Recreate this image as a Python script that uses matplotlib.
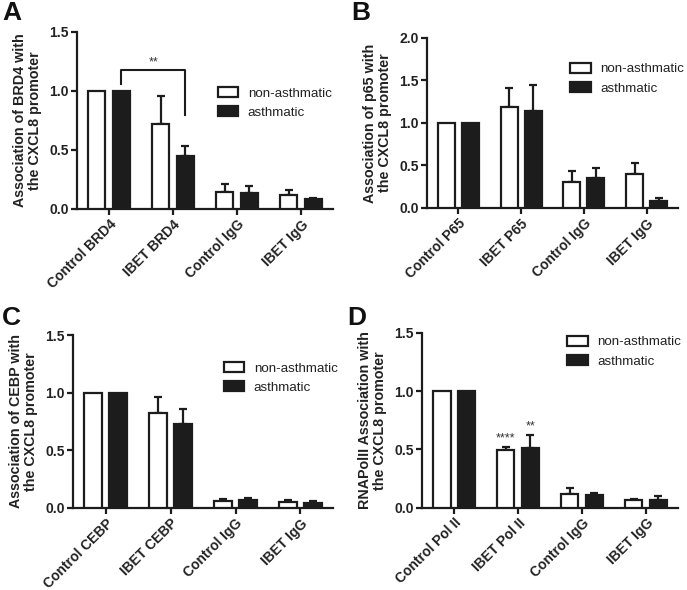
import matplotlib
matplotlib.use("Agg")
import matplotlib.pyplot as plt
import numpy as np
from matplotlib.patches import Patch

plt.rcParams['font.family'] = ['Liberation Sans', 'DejaVu Sans']

series_names = ["non-asthmatic", "asthmatic"]

# Panel A
cats_a = ["Control BRD4", "IBET BRD4", "Control IgG", "IBET IgG"]
non_a = [1.0, 0.72, 0.14, 0.115]
non_a_err = [0.0, 0.24, 0.07, 0.05]
ast_a = [1.0, 0.45, 0.135, 0.082]
ast_a_err = [0.0, 0.08, 0.06, 0.015]
ylab_a = "Association of BRD4 with\nthe CXCL8 promoter"

# Panel B
cats_b = ["Control P65", "IBET P65", "Control IgG", "IBET IgG"]
non_b = [1.0, 1.19, 0.30, 0.395]
non_b_err = [0.0, 0.22, 0.14, 0.135]
ast_b = [1.0, 1.145, 0.35, 0.078]
ast_b_err = [0.0, 0.30, 0.12, 0.042]
ylab_b = "Association of p65 with\nthe CXCL8 promoter"

# Panel C
cats_c = ["Control CEBP", "IBET CEBP", "Control IgG", "IBET IgG"]
non_c = [1.0, 0.82, 0.063, 0.055]
non_c_err = [0.0, 0.14, 0.012, 0.017]
ast_c = [1.0, 0.724, 0.066, 0.043]
ast_c_err = [0.0, 0.138, 0.018, 0.018]
ylab_c = "Association of CEBP with\nthe CXCL8 promoter"

# Panel D
cats_d = ["Control Pol II", "IBET Pol II", "Control IgG", "IBET IgG"]
non_d = [1.0, 0.497, 0.115, 0.062]
non_d_err = [0.0, 0.026, 0.055, 0.01]
ast_d = [1.0, 0.512, 0.11, 0.066]
ast_d_err = [0.0, 0.11, 0.016, 0.03]
ylab_d = "RNAPolII Association with\nthe CXCL8 promoter"

fig = plt.figure(figsize=(6.87, 5.90), dpi=100)

INK = "#1c1c1c"
W = 0.27
OFF = 0.19
TICK_FS = 10
LAB_FS = 10.3
LEG_FS = 9.6

def panel(rect, cats, non, non_err, ast, ast_err, ylab, ymax, letter, letter_xy, leg_xy):
    ax = fig.add_axes(rect)
    x = np.arange(len(cats))
    ax.bar(x - OFF, non, W, color="white", edgecolor=INK, linewidth=1.6, zorder=3)
    ax.bar(x + OFF, ast, W, color=INK, edgecolor=INK, linewidth=1.6, zorder=3)
    ne = np.array(non_err, dtype=float)
    ae = np.array(ast_err, dtype=float)
    mask_n = ne > 0
    mask_a = ae > 0
    ax.errorbar((x - OFF)[mask_n], np.array(non)[mask_n],
                yerr=[np.zeros(mask_n.sum()), ne[mask_n]], fmt="none",
                ecolor=INK, elinewidth=1.6, capsize=3.2, capthick=1.6, zorder=2)
    ax.errorbar((x + OFF)[mask_a], np.array(ast)[mask_a],
                yerr=[np.zeros(mask_a.sum()), ae[mask_a]], fmt="none",
                ecolor=INK, elinewidth=1.6, capsize=3.2, capthick=1.6, zorder=2)
    ax.set_xlim(-0.5, 3.5)
    ax.set_ylim(0, ymax)
    ax.set_yticks(np.arange(0, ymax + 0.01, 0.5))
    ax.set_yticklabels([f"{v:.1f}" for v in np.arange(0, ymax + 0.01, 0.5)],
                       fontsize=TICK_FS, fontweight="bold", color="#222222")
    ax.set_xticks(x)
    ax.set_xticklabels(cats, rotation=45, ha="right", va="top", rotation_mode="anchor",
                       fontsize=TICK_FS, fontweight="bold", color="#222222")
    for s in ["top", "right"]:
        ax.spines[s].set_visible(False)
    for s in ["left", "bottom"]:
        ax.spines[s].set_linewidth(1.6)
        ax.spines[s].set_color(INK)
    ax.tick_params(axis="both", direction="out", length=4, width=1.6, color=INK, pad=2)
    ax.set_ylabel(ylab, fontsize=LAB_FS, fontweight="bold", color="#222222", labelpad=5,
                  linespacing=1.1)
    fig.text(letter_xy[0], letter_xy[1], letter, fontsize=19, fontweight="bold",
             color="#111111", ha="left", va="top")
    handles = [Patch(facecolor="white", edgecolor=INK, linewidth=1.6),
               Patch(facecolor=INK, edgecolor=INK, linewidth=1.6)]
    ax.legend(handles, series_names, loc="upper left", bbox_to_anchor=leg_xy,
              frameon=False, fontsize=LEG_FS, handlelength=1.55, handleheight=0.8,
              handletextpad=0.7, labelspacing=0.5, borderpad=0, borderaxespad=0,
              labelcolor="#222222")
    return ax

axA = panel([0.1121, 0.6458, 0.3726, 0.300], cats_a, non_a, non_a_err, ast_a, ast_a_err,
            ylab_a, 1.5, "A", (0.003, 0.998), (0.55, 0.69))
axB = panel([0.6215, 0.6475, 0.3654, 0.2881], cats_b, non_b, non_b_err, ast_b, ast_b_err,
            ylab_b, 2.0, "B", (0.512, 0.998), (0.57, 0.855))
axC = panel([0.1063, 0.1390, 0.3784, 0.2932], cats_c, non_c, non_c_err, ast_c, ast_c_err,
            ylab_c, 1.5, "C", (0.003, 0.482), (0.58, 0.845))
axD = panel([0.6143, 0.1398, 0.3726, 0.2958], cats_d, non_d, non_d_err, ast_d, ast_d_err,
            ylab_d, 1.5, "D", (0.505, 0.482), (0.566, 0.985))

# significance bracket panel A
axA.plot([OFF, OFF, 1 + OFF, 1 + OFF], [1.06, 1.178, 1.178, 0.80], color=INK, lw=1.5,
         zorder=4, clip_on=False)
axA.text(0.69, 1.195, "**", ha="center", va="bottom", fontsize=9, color="#333333")

# stars panel D
axD.text(1 - OFF, 0.54, "****", ha="center", va="bottom", fontsize=9, color="#333333")
axD.text(1 + OFF, 0.645, "**", ha="center", va="bottom", fontsize=9, color="#333333")

fig.savefig("out.png", dpi=100, facecolor="white")
